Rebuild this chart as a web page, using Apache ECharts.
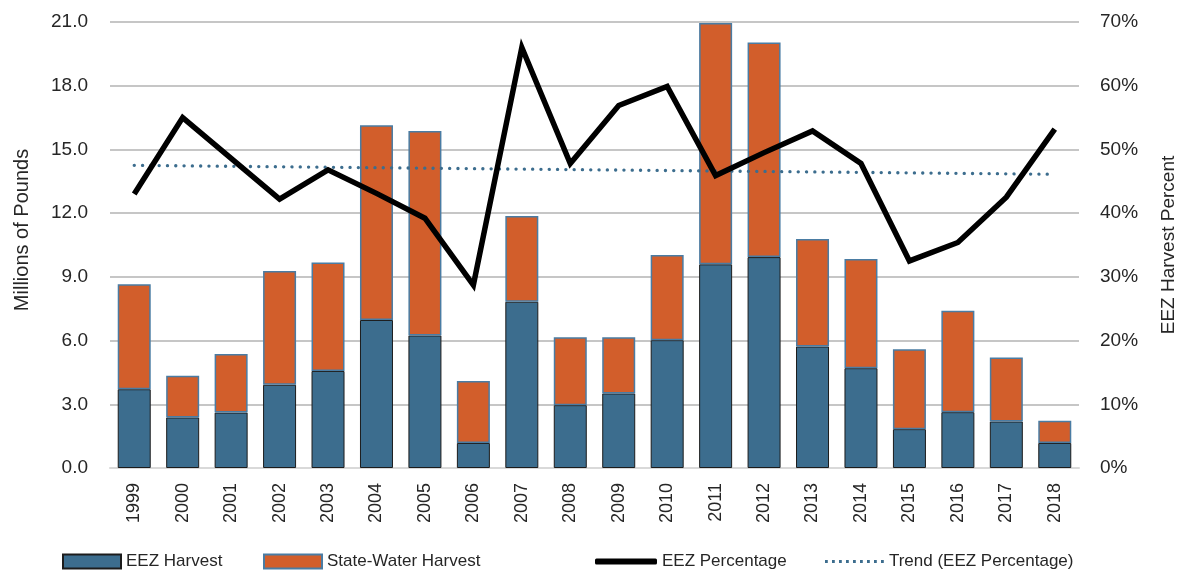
<!DOCTYPE html>
<html>
<head>
<meta charset="utf-8">
<script src="https://cdn.jsdelivr.net/npm/echarts@6/dist/echarts.min.js"></script>
<style>
  html, body { margin: 0; padding: 0; background: #fff; }
  #chart { width: 1181px; height: 576px; }
</style>
</head>
<body>
<div id="chart"></div>
<script>
// data
const years = ["1999", "2000", "2001", "2002", "2003", "2004", "2005", "2006", "2007", "2008",
  "2009", "2010", "2011", "2012", "2013", "2014", "2015", "2016", "2017", "2018"]
const eezHarvest = [3.71, 2.38, 2.61, 3.92, 4.57, 6.97, 6.24, 1.18, 7.83, 2.96,
  3.51, 6.02, 9.59, 9.93, 5.72, 4.70, 1.83, 2.63, 2.19, 1.18]
const stateHarvest = [4.94, 1.96, 2.76, 5.36, 5.11, 9.17, 9.63, 2.92, 4.03, 3.20,
  2.65, 4.01, 11.36, 10.10, 5.06, 5.14, 3.76, 4.78, 3.01, 1.04]
const eezPercent = [43.0, 55.0, 48.6, 42.2, 46.8, 43.1, 39.2, 28.7, 66.0, 47.8,
  56.9, 59.9, 45.9, 49.5, 52.9, 47.8, 32.5, 35.4, 42.5, 53.2]
// trend line end points (1999, 2018)
const trendEnds = [47.5, 46.1]
const leftTicks = { min: 0, max: 21, interval: 3 }
const rightTicks = { min: 0, max: 70, interval: 10 }

const FONT = "Liberation Sans, Arial, sans-serif"
const TEXT = "#262626"
const BLUE = "#3c6d8e"

// little dotted line used as the trend's legend icon
let dots = ""
for (let i = 0; i < 9; i++) dots += "M" + (i * 7) + ",0h2.8v2.8h-2.8z"
const dotIcon = "path://" + dots

const chart = echarts.init(document.getElementById("chart"))

const legendBase = {
  top: 553,
  padding: 0,
  itemWidth: 58,
  itemHeight: 14,
  itemGap: 7,
  textStyle: { fontFamily: FONT, fontSize: 17, color: TEXT },
}

chart.setOption({
  animation: false,
  textStyle: { fontFamily: FONT },
  grid: {
    left: 110, right: 102, top: 22, bottom: 108,
    containLabel: false, outerBoundsMode: "none",
  },
  legend: [
    Object.assign({}, legendBase, { left: 62, icon: "rect", data: ["EEZ Harvest"] }),
    Object.assign({}, legendBase, { left: 263, icon: "rect", data: ["State-Water Harvest"] }),
    Object.assign({}, legendBase, {
      left: 595, itemWidth: 62, itemHeight: 6,
      data: [{ name: "EEZ Percentage", icon: "roundRect" }],
    }),
    Object.assign({}, legendBase, {
      left: 825, itemWidth: 59, itemHeight: 2.8,
      data: [{ name: "Trend (EEZ Percentage)", icon: dotIcon }],
    }),
  ],
  xAxis: {
    type: "category",
    data: years,
    axisLine: { lineStyle: { color: "#d9d9d9", width: 2 } },
    axisTick: { show: false },
    axisLabel: {
      rotate: 90,
      margin: 15,
      fontFamily: FONT,
      fontSize: 18,
      color: TEXT,
    },
  },
  yAxis: [
    {
      type: "value",
      min: leftTicks.min,
      max: leftTicks.max,
      interval: leftTicks.interval,
      name: "Millions of Pounds",
      nameLocation: "middle",
      nameGap: 78,
      nameTextStyle: { fontFamily: FONT, fontSize: 20, color: TEXT, padding: [0, 0, 0, 30] },
      axisLine: { show: false },
      axisTick: { show: false },
      axisLabel: {
        margin: 22,
        fontSize: 19,
        color: TEXT,
        formatter: (v) => v.toFixed(1),
      },
      splitLine: { lineStyle: { color: "#b3b3b3", width: 1.5 } },
    },
    {
      type: "value",
      min: rightTicks.min,
      max: rightTicks.max,
      interval: rightTicks.interval,
      name: "EEZ Harvest Percent",
      nameLocation: "middle",
      nameGap: 80,
      nameRotate: 90,
      nameTextStyle: { fontFamily: FONT, fontSize: 19, color: TEXT },
      axisLine: { show: false },
      axisTick: { show: false },
      axisLabel: {
        margin: 21,
        fontSize: 19,
        color: TEXT,
        formatter: "{value}%",
      },
      splitLine: { show: false },
    },
  ],
  series: [
    {
      name: "EEZ Harvest",
      type: "bar",
      stack: "total",
      barWidth: 33,
      data: eezHarvest,
      itemStyle: { color: BLUE, borderColor: "#1c1c1c", borderWidth: 1 },
    },
    {
      name: "State-Water Harvest",
      type: "bar",
      stack: "total",
      barWidth: 33,
      data: stateHarvest,
      itemStyle: { color: "#d25e2b", borderColor: "#4a7ca3", borderWidth: 1.5 },
    },
    {
      name: "EEZ Percentage",
      type: "line",
      yAxisIndex: 1,
      data: eezPercent,
      symbol: "none",
      lineStyle: { color: "#000", width: 5.5, join: "miter" },
      itemStyle: { color: "#000" },
      z: 5,
    },
    {
      name: "Trend (EEZ Percentage)",
      type: "line",
      yAxisIndex: 1,
      data: [[years[0], trendEnds[0]], [years[years.length - 1], trendEnds[1]]],
      symbol: "none",
      lineStyle: { color: BLUE, width: 3.3, type: [0.1, 8.2], cap: "round" },
      itemStyle: { color: BLUE },
      z: 4,
    },
  ],
})
</script>
</body>
</html>
